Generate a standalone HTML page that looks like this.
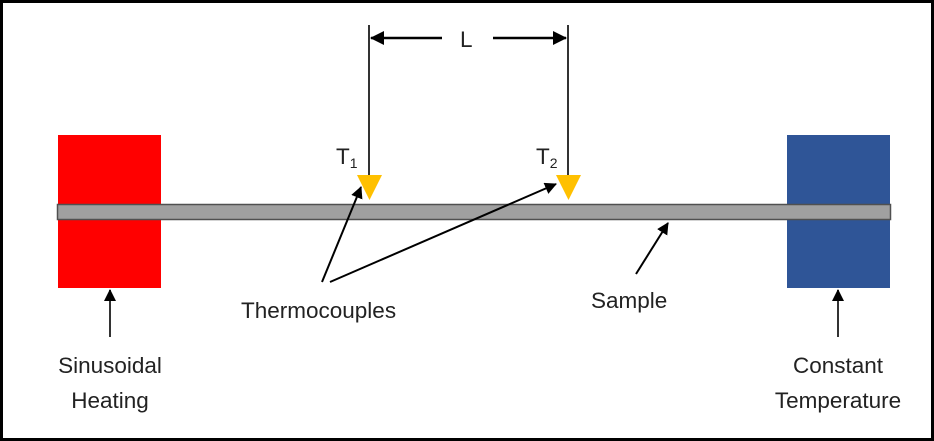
<!DOCTYPE html>
<html><head><style>
body{margin:0;background:#fff}
svg{display:block}
text{font-family:"Liberation Sans",sans-serif;fill:#222;font-size:22.5px}
</style></head><body>
<svg width="934" height="441" viewBox="0 0 934 441">
<defs><marker id="a" markerWidth="12" markerHeight="14" refX="11" refY="6" orient="auto" markerUnits="userSpaceOnUse"><path d="M0,0 L12,6 L0,12z" fill="#000"/></marker>
<marker id="b" markerWidth="14" markerHeight="14" refX="13" refY="7" orient="auto" markerUnits="userSpaceOnUse"><path d="M0,0 L14,7 L0,14z" fill="#000"/></marker></defs>
<rect x="1.5" y="1.5" width="931" height="438" fill="#fff" stroke="#000" stroke-width="3"/>
<rect x="58" y="135" width="103" height="153" fill="#ff0000"/>
<rect x="787" y="135" width="103" height="153" fill="#2f5597"/>
<rect x="57.5" y="204.5" width="833" height="15" fill="#a0a0a0" stroke="#505050" stroke-width="1.5"/>
<line x1="369" y1="25" x2="369" y2="180" stroke="#333" stroke-width="2"/>
<line x1="568" y1="25" x2="568" y2="180" stroke="#333" stroke-width="2"/>
<polygon points="357,175 382,175 369.5,200" fill="#ffc000"/>
<polygon points="556,175 581,175 568.5,200" fill="#ffc000"/>
<line x1="442" y1="38" x2="371" y2="38" stroke="#000" stroke-width="2.5" marker-end="url(#b)"/>
<line x1="493" y1="38" x2="566" y2="38" stroke="#000" stroke-width="2.5" marker-end="url(#b)"/>
<text x="460" y="47">L</text>
<text x="336" y="164">T<tspan font-size="14" dy="4">1</tspan></text>
<text x="536" y="164">T<tspan font-size="14" dy="4">2</tspan></text>
<line x1="322" y1="282" x2="361" y2="187" stroke="#000" stroke-width="2" marker-end="url(#a)"/>
<line x1="330" y1="282" x2="556" y2="184" stroke="#000" stroke-width="2" marker-end="url(#a)"/>
<line x1="636" y1="274" x2="668" y2="223" stroke="#000" stroke-width="2" marker-end="url(#a)"/>
<line x1="110" y1="337" x2="110" y2="290" stroke="#333" stroke-width="2" marker-end="url(#a)"/>
<line x1="838" y1="337" x2="838" y2="290" stroke="#333" stroke-width="2" marker-end="url(#a)"/>
<text x="241" y="318">Thermocouples</text>
<text x="591" y="308">Sample</text>
<text x="110" y="373" text-anchor="middle">Sinusoidal</text>
<text x="110" y="408" text-anchor="middle">Heating</text>
<text x="838" y="373" text-anchor="middle">Constant</text>
<text x="838" y="408" text-anchor="middle">Temperature</text>
</svg>
</body></html>
